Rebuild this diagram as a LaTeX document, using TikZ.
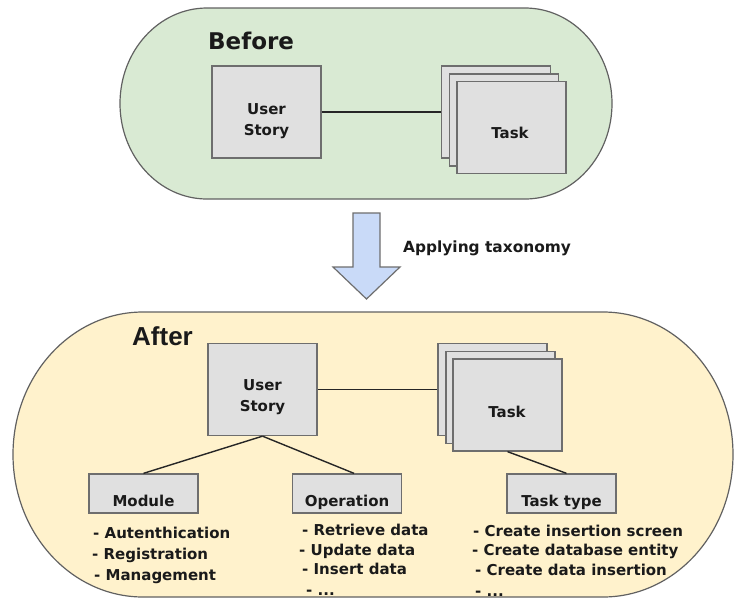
\documentclass[tikz,border=0pt]{standalone}
\usepackage{fontspec}
\setmainfont{DejaVu Sans}
\newfontfamily\arialfont{Liberation Sans}
\usetikzlibrary{calc}
\definecolor{befg}{HTML}{D9EAD3}
\definecolor{aftery}{HTML}{FFF2CC}
\definecolor{boxg}{HTML}{E0E0E0}
\definecolor{edgeg}{HTML}{6E6E6E}
\definecolor{arrowb}{HTML}{C9DAF8}
\definecolor{ink}{HTML}{1A1A1A}
\begin{document}
\begin{tikzpicture}[x=1pt,y=-1pt,
  card/.style={draw=edgeg, fill=boxg, line width=1.3pt, minimum width=109pt, minimum height=92pt, inner sep=0pt},
  smallbox/.style={draw=edgeg, fill=boxg, line width=1.3pt, minimum width=109pt, minimum height=39pt, inner sep=0pt},
  txt/.style={font=\bfseries\fontsize{15}{21}\selectfont, text=ink, inner sep=0pt},
  listtxt/.style={txt, anchor=base west},
  link/.style={line width=1.4pt, draw=black!85},
  panel/.style={draw=black!62, line width=1.2pt}]
\useasboundingbox (0,0) rectangle (734,603);
\fill[white] (0,0) rectangle (734,603);
% panels
\path[panel, fill=befg] (207,8) -- (525,8)
  arc[start angle=90,end angle=-90,x radius=87pt,y radius=95.5pt] -- (207,199)
  arc[start angle=270,end angle=90,x radius=87pt,y radius=95.5pt] -- cycle;
\path[panel, fill=aftery] (143,312) -- (603,312)
  arc[start angle=90,end angle=-90,x radius=130pt,y radius=142.5pt] -- (143,597)
  arc[start angle=270,end angle=90,x radius=130pt,y radius=142.5pt] -- cycle;
% titles
\node[txt, font=\bfseries\fontsize{23}{28}\selectfont, anchor=base west] (lbefore) at (208,49) {Before};
\node[txt, font=\arialfont\bfseries\fontsize{26}{30}\selectfont, anchor=base west] (lafter) at (132,345) {After};
% transition arrow
\path[draw=edgeg, fill=arrowb, line width=1.2pt] (353,213) -- (380,213) -- (380,267) -- (400,267)
  -- (366.5,299) -- (333,267) -- (353,267) -- cycle;
\node[txt, font=\bfseries\fontsize{15.4}{20}\selectfont, anchor=base west] (lapply) at (403,252) {Applying taxonomy};
% before
\node[card] (t1a) at (496,112) {};
\node[card] (t1b) at (504,120) {};
\node[card] (t1c) at (511.5,127.5) {};
\node[card] (us1) at (266.5,112) {};
\draw[link] (us1.east) -- (t1a.west);
\node[txt, align=center] (us1t) at (266.5,121.5) {User\\Story};
\node[txt, anchor=base] (t1t) at (510,138) {Task};
% after
\node[card] (t2a) at (492.5,389.5) {};
\node[card] (t2b) at (500.5,397.5) {};
\node[card] (t2c) at (507.5,405) {};
\node[card] (us2) at (262.5,389.5) {};
\node[txt, align=center] (us2t) at (262.5,397.5) {User\\Story};
\node[txt, anchor=base] (t2t) at (507,417) {Task};
\node[smallbox] (mod) at (143.5,493.5) {};
\node[smallbox] (op) at (347,493.5) {};
\node[smallbox] (tt) at (561.5,493.5) {};
\node[txt, anchor=base] (modt) at (143.5,506) {Module};
\node[txt, anchor=base] (opt) at (347,506) {Operation};
\node[txt, anchor=base] (ttt) at (561.5,506) {Task type};
\draw[link] (us2.east) -- (t2a.west);
\draw[link] (us2.south) -- (mod.north);
\draw[link] (us2.south) -- ([xshift=7pt]op.north);
\draw[link] (t2c.south) -- ([xshift=5pt]tt.north);
% lists
\node[listtxt] (m1) at (93,538) {- Autenthication};
\node[listtxt] (m2) at (92,559) {- Registration};
\node[listtxt] (m3) at (94,580) {- Management};
\node[listtxt] (o1) at (302,535) {- Retrieve data};
\node[listtxt] (o2) at (299,555) {- Update data};
\node[listtxt] (o3) at (302,574) {- Insert data};
\node[listtxt] (o4) at (306,595) {- ...};
\node[listtxt] (k1) at (473,536) {- Create insertion screen};
\node[listtxt] (k2) at (472,555) {- Create database entity};
\node[listtxt] (k3) at (475,575) {- Create data insertion};
\node[listtxt] (k4) at (475,596) {- ...};
\end{tikzpicture}
\end{document}
